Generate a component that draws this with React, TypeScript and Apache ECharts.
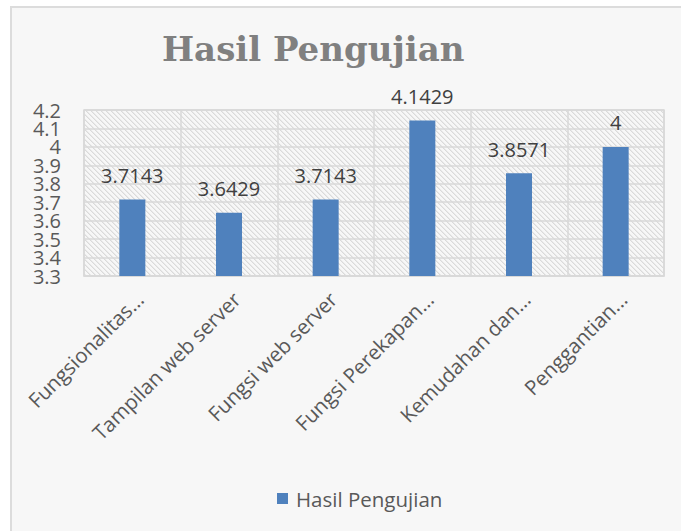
import React, { useEffect, useRef } from "react";
import * as echarts from "echarts";

const chartTitle = "Hasil Pengujian";
const seriesName = "Hasil Pengujian";
const categories = [
  "Fungsionalitas...",
  "Tampilan web server",
  "Fungsi web server",
  "Fungsi Perekapan...",
  "Kemudahan dan...",
  "Penggantian...",
];
const values = [3.7143, 3.6429, 3.7143, 4.1429, 3.8571, 4];
const yMin = 3.3;
const yMax = 4.2;
const yStep = 0.1;

function makeHatch(): HTMLCanvasElement {
  const n = 5;
  const c = document.createElement("canvas");
  c.width = n;
  c.height = n;
  const ctx = c.getContext("2d")!;
  const img = ctx.createImageData(n, n);
  for (let y = 0; y < n; y++) {
    for (let x = 0; x < n; x++) {
      const d = (((x - y) % n) + n) % n;
      const v = d === 0 ? 218 : d === 1 ? 233 : 247;
      const i = (y * n + x) * 4;
      img.data[i] = v;
      img.data[i + 1] = v;
      img.data[i + 2] = v;
      img.data[i + 3] = 255;
    }
  }
  ctx.putImageData(img, 0, 0);
  return c;
}

const fmt = (v: number) => String(Math.round(v * 10) / 10);
const isEnd = (v: number) => Math.abs(v - yMin) < 1e-6 || Math.abs(v - yMax) < 1e-6;

export default function App() {
  const ref = useRef<HTMLDivElement>(null);
  useEffect(() => {
    if (!ref.current) return;
    const chart = echarts.init(ref.current, null, { renderer: "svg" });
    const hatch = makeHatch();
    const font = "Open Sans";
    const yLabel = {
      margin: 23,
      fontFamily: font,
      fontSize: 20,
      color: "#595959",
    };
    chart.setOption({
      animation: false,
      backgroundColor: "transparent",
      title: {
        text: chartTitle,
        left: 162,
        top: 32,
        padding: 0,
        textStyle: {
          fontFamily: "DejaVu Serif",
          fontWeight: "bold",
          fontSize: 34,
          color: "#808080",
        },
      },
      legend: {
        data: [seriesName],
        left: 272,
        top: 483,
        icon: "rect",
        itemWidth: 11,
        itemHeight: 11,
        textStyle: {
          fontFamily: font,
          fontSize: 20.5,
          color: "#595959",
          padding: [0, 0, 0, 3],
        },
      },
      grid: {
        left: 84,
        right: 17,
        top: 110,
        bottom: 255,
        show: true,
        borderColor: "#d9d9d9",
        borderWidth: 1.5,
        backgroundColor: {
          image: hatch,
          repeat: "repeat",
          imageWidth: 5,
          imageHeight: 5,
        } as any,
        containLabel: false,
      },
      xAxis: {
        type: "category",
        data: categories,
        axisLine: { show: true, lineStyle: { color: "#d9d9d9", width: 1.5 } },
        axisTick: { show: false },
        splitLine: { show: true, lineStyle: { color: "#d9d9d9", width: 1.5 } },
        axisLabel: {
          rotate: 45,
          interval: 0,
          margin: 12,
          fontFamily: font,
          fontSize: 20.5,
          color: "#595959",
          align: "right",
          verticalAlign: "top",
        },
      },
      yAxis: [
        {
          type: "value",
          min: yMin,
          max: yMax,
          interval: yStep,
          position: "left",
          axisLine: { show: false },
          axisTick: { show: false },
          splitLine: { show: true, lineStyle: { color: "#d9d9d9", width: 1.5 } },
          axisLabel: {
            ...yLabel,
            showMinLabel: false,
            showMaxLabel: false,
            formatter: (v: number) => (isEnd(v) ? "" : fmt(v)),
          },
        },
        {
          type: "value",
          min: yMin,
          max: yMax,
          interval: yStep,
          position: "left",
          offset: 0,
          axisLine: { show: false },
          axisTick: { show: false },
          splitLine: { show: false },
          axisLabel: {
            ...yLabel,
            showMinLabel: true,
            showMaxLabel: true,
            formatter: (v: number) => (isEnd(v) ? fmt(v) : ""),
          },
        },
      ],
      series: [
        {
          name: seriesName,
          type: "bar",
          yAxisIndex: 0,
          data: values,
          barWidth: 26,
          itemStyle: { color: "#4f81bd" },
          label: {
            show: true,
            position: "top",
            distance: 14,
            fontFamily: font,
            fontSize: 20,
            color: "#404040",
          },
        },
      ],
    });
    return () => chart.dispose();
  }, []);
  return (
    <div style={{ position: "absolute", left: 0, top: 0, width: 681, height: 531, background: "#ffffff" }}>
      <div
        style={{
          position: "absolute",
          left: 10,
          top: 6,
          width: 671,
          height: 525,
          background: "#f7f7f7",
          borderLeft: "2px solid #dcdcdc",
          borderTop: "2px solid #dcdcdc",
          boxSizing: "border-box",
        }}
      />
      <div ref={ref} style={{ position: "absolute", left: 0, top: 0, width: 681, height: 531 }} />
    </div>
  );
}
